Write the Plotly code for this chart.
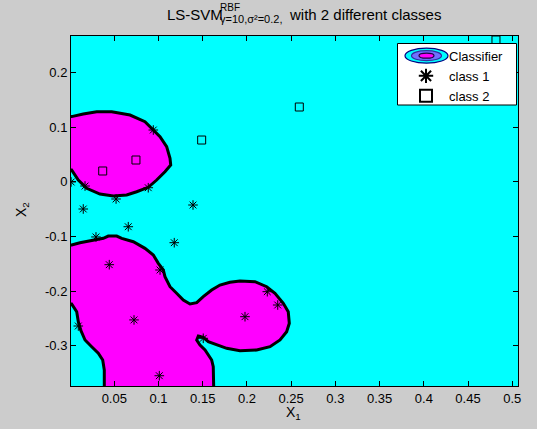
import plotly.graph_objects as go

# ---------------- data ----------------
class1_x1 = [0.0012, 0.0169, 0.0520, 0.0884, 0.0149, 0.0658, 0.0293, 0.1178, 0.1390, 0.0941,
             0.0443, 0.0723, 0.1009, 0.0093, 0.1017, 0.1978, 0.2348, 0.2230, 0.1506]
class1_x2 = [-0.0005, -0.0079, -0.0316, -0.0110, -0.0499, -0.0823, -0.1010, -0.1115, -0.0426, 0.0945,
             -0.1517, -0.2527, -0.3547, -0.2638, -0.1614, -0.2468, -0.2254, -0.2011, -0.2863]

class2_x1 = [0.0369, 0.0745, 0.1488, 0.2592, 0.4816]
class2_x2 = [0.0196, 0.0397, 0.0762, 0.1366, 0.2591]

# classifier regions (magenta side of the decision boundary)
region_top_x1 = [-0.010, 0.0018, 0.0149, 0.0301, 0.0471, 0.0678, 0.0847, 0.0941, 0.1017, 0.1092,
                 0.1130, 0.1138, 0.1073, 0.0979, 0.0884, 0.0753, 0.0640, 0.0489, 0.0338, 0.0188,
                 0.0093, 0.0018, -0.010]
region_top_x2 = [0.119, 0.119, 0.1238, 0.1280, 0.1280, 0.1219, 0.1097, 0.0945, 0.0823, 0.0640,
                 0.0428, 0.0305, 0.0183, 0.0031, -0.0102, -0.0183, -0.0243, -0.0261, -0.0225, -0.0121,
                 0.0031, 0.0214, 0.0214]

region_bottom_x1 = [-0.010, 0.0018, 0.0112, 0.0263, 0.0376, 0.0432, 0.0527, 0.0584, 0.0715, 0.0847,
                    0.0941, 0.0998, 0.1054, 0.1073, 0.1130, 0.1205, 0.1280, 0.1356, 0.1432, 0.1506,
                    0.1601, 0.1695, 0.1808, 0.1921, 0.2091, 0.2223, 0.2317, 0.2411, 0.2467, 0.2479,
                    0.2449, 0.2374, 0.2261, 0.2110, 0.1921, 0.1771, 0.1658, 0.1563, 0.1506, 0.1450,
                    0.1432, 0.1469, 0.1526, 0.1582, 0.1601, 0.1619, 0.1627, 0.1627,
                    0.0387, 0.0387, 0.0369, 0.0319, 0.0244, 0.0169, 0.0120, 0.0093, 0.0075, 0.0018,
                    -0.010]
region_bottom_x2 = [-0.1157, -0.1157, -0.1115, -0.1066, -0.1035, -0.0993, -0.0993, -0.1035, -0.1097, -0.1218,
                    -0.1340, -0.1492, -0.1614, -0.1737, -0.1920, -0.2040, -0.2163, -0.2236, -0.2212, -0.2102,
                    -0.1980, -0.1889, -0.1839, -0.1815, -0.1828, -0.1920, -0.2040, -0.2223, -0.2377, -0.2589,
                    -0.2742, -0.2894, -0.3017, -0.3077, -0.3090, -0.3046, -0.2985, -0.2925, -0.2845, -0.2821,
                    -0.2894, -0.2985, -0.3077, -0.3200, -0.3260, -0.3382, -0.3735, -0.4000,
                    -0.4000, -0.3443, -0.3260, -0.3137, -0.3017, -0.2894, -0.2711, -0.2560, -0.2377, -0.2236,
                    -0.2236]

x_tick_vals = [0.05, 0.1, 0.15, 0.2, 0.25, 0.3, 0.35, 0.4, 0.45, 0.5]
x_tick_text = ["0.05", "0.1", "0.15", "0.2", "0.25", "0.3", "0.35", "0.4", "0.45", "0.5"]
y_tick_vals = [-0.3, -0.2, -0.1, 0, 0.1, 0.2]
y_tick_text = ["-0.3", "-0.2", "-0.1", "0", "0.1", "0.2"]
x_range = [0.00104, 0.5065]
y_range = [-0.3735, 0.2664]

# ---------------- styling ----------------
FONT = "Liberation Sans, Arial, Helvetica, sans-serif"
CYAN = "#00FFFF"
MAGENTA = "#FF00FF"
GREY = "#CCCCCC"

fig = go.Figure()

# filled classifier regions
for rx, ry in [(region_top_x1, region_top_x2), (region_bottom_x1, region_bottom_x2)]:
    fig.add_trace(go.Scatter(x=rx, y=ry, mode="lines", fill="toself", fillcolor=MAGENTA,
                             line=dict(width=0, color=MAGENTA), showlegend=False, hoverinfo="skip"))

# legend-only entry for the classifier
fig.add_trace(go.Scatter(x=[None], y=[None], mode="markers", name="Classifier",
                         marker=dict(color="rgba(0,0,0,0)", size=1), legendrank=1))

fig.add_trace(go.Scatter(x=class1_x1, y=class1_x2, mode="markers", name="class 1",
                         marker=dict(symbol="asterisk-open", size=8, color="black",
                                     line=dict(color="black", width=1)), legendrank=2))
fig.add_trace(go.Scatter(x=class2_x1, y=class2_x2, mode="markers", name="class 2",
                         marker=dict(symbol="square-open", size=8, color="black",
                                     line=dict(color="black", width=1)), legendrank=3))

# decision boundary lines
for rx, ry in [(region_top_x1, region_top_x2), (region_bottom_x1, region_bottom_x2)]:
    fig.add_trace(go.Scatter(x=rx, y=ry, mode="lines", line=dict(width=3, color="black"),
                             showlegend=False, hoverinfo="skip"))

# plot-area pixel geometry
L, R, T, B = 71, 518, 36, 386
W, H = 537, 429
def px(xp):
    return (xp - L) / (R - L)
def py(yp):
    return (B - yp) / (B - T)

shapes = []
# legend box
shapes.append(dict(type="rect", xref="paper", yref="paper", x0=px(397.5), x1=px(516.5),
                   y0=py(105), y1=py(43.5), fillcolor="white", line=dict(color="black", width=1),
                   layer="above"))
# classifier icon (nested ellipses)
cx, cy = 426.5, 55.7
for w, h, fc, lc in [(43, 15, CYAN, "#000080"), (30, 10, "#7070FF", "#3030A0"), (15, 5, MAGENTA, "#200040")]:
    shapes.append(dict(type="circle", xref="paper", yref="paper",
                       x0=px(cx - w / 2), x1=px(cx + w / 2), y0=py(cy + h / 2), y1=py(cy - h / 2),
                       fillcolor=fc, line=dict(color=lc, width=1.2), layer="above"))

annotations = [
    dict(text="LS-SVM", x=px(165), y=py(15), xref="paper", yref="paper", xanchor="left",
         yanchor="middle", showarrow=False, font=dict(size=15, color="black", family=FONT)),
    dict(text="RBF", x=px(218), y=py(8), xref="paper", yref="paper", xanchor="left",
         yanchor="middle", showarrow=False, font=dict(size=10, color="black", family=FONT)),
    dict(text="γ=10,σ²=0.2,", x=px(218), y=py(19), xref="paper", yref="paper", xanchor="left",
         yanchor="middle", showarrow=False, font=dict(size=11, color="black", family=FONT)),
    dict(text="with 2 different classes", x=px(287), y=py(15), xref="paper", yref="paper",
         xanchor="left", yanchor="middle", showarrow=False,
         font=dict(size=15, color="black", family=FONT)),
    dict(text="X<sub>1</sub>", x=px(293), y=py(413), xref="paper", yref="paper", xanchor="center",
         yanchor="middle", showarrow=False, font=dict(size=14, color="black", family=FONT)),
    dict(text="X<sub>2</sub>", x=px(22), y=py(210), xref="paper", yref="paper", xanchor="center",
         yanchor="middle", showarrow=False, textangle=-90,
         font=dict(size=14, color="black", family=FONT)),
]

axis_common = dict(showgrid=False, zeroline=False, showline=True, linecolor="black", linewidth=1,
                   mirror="ticks", ticks="inside", ticklen=5, tickcolor="black", tickwidth=1,
                   tickfont=dict(size=13, color="black", family=FONT))

fig.update_layout(
    width=W, height=H,
    margin=dict(l=L, r=W - R, t=T, b=H - B, pad=0),
    paper_bgcolor=GREY, plot_bgcolor=CYAN,
    xaxis=dict(range=x_range, tickvals=x_tick_vals, ticktext=x_tick_text, **axis_common),
    yaxis=dict(range=y_range, tickvals=y_tick_vals, ticktext=y_tick_text, **axis_common),
    showlegend=True,
    legend=dict(x=px(403), y=py(41), xanchor="left", yanchor="top", bgcolor="rgba(0,0,0,0)",
                borderwidth=0, font=dict(size=13, color="black", family=FONT),
                itemsizing="constant", itemwidth=36, tracegroupgap=0),
    shapes=shapes, annotations=annotations,
    font=dict(family=FONT, color="black"),
)

fig.write_html("out.html", config={"displayModeBar": False},
               post_script="document.body.style.margin='0';")
